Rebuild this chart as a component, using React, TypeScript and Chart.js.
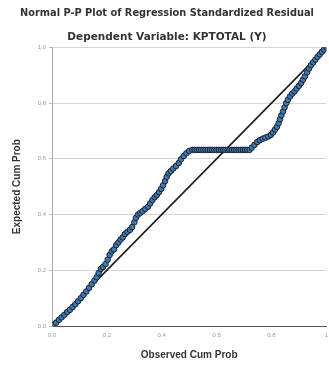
import React, { useEffect, useRef } from "react";
import { Chart, registerables } from "chart.js";

Chart.register(...registerables);

const titleText = "Normal P-P Plot of Regression Standardized Residual";
const subtitleText = "Dependent Variable: KPTOTAL (Y)";
const xAxisTitle = "Observed Cum Prob";
const yAxisTitle = "Expected Cum Prob";
const xTickLabels = ["0.0", "0.2", "0.4", "0.6", "0.8", "1"];
const yTickLabels = ["0.0", "0.2", "0.4", "0.6", "0.8", "1.0"];

const observedCumProb = [
  0.005, 0.015, 0.025, 0.035, 0.045, 0.055, 0.065, 0.075, 0.085, 0.095,
  0.105, 0.115, 0.125, 0.135, 0.145, 0.155, 0.163, 0.17, 0.178, 0.186,
  0.195, 0.203, 0.21, 0.218, 0.226, 0.234, 0.242, 0.25, 0.258, 0.266,
  0.275, 0.284, 0.292, 0.3, 0.306, 0.314, 0.322, 0.33, 0.34, 0.35,
  0.358, 0.366, 0.374, 0.382, 0.39, 0.398, 0.405, 0.412, 0.418, 0.425,
  0.433, 0.442, 0.452, 0.462, 0.47, 0.48, 0.49, 0.5, 0.512,
  0.52, 0.528, 0.536, 0.544, 0.552, 0.56, 0.568, 0.576, 0.584, 0.592,
  0.6, 0.608, 0.616, 0.624, 0.632, 0.64, 0.648, 0.656, 0.664, 0.672,
  0.68, 0.688, 0.696, 0.704, 0.712, 0.72,
  0.728, 0.738, 0.748, 0.758, 0.768, 0.778, 0.788, 0.798, 0.806, 0.813,
  0.82, 0.826, 0.831, 0.836, 0.842, 0.848, 0.854, 0.86, 0.868, 0.876,
  0.884, 0.892, 0.9, 0.908, 0.915, 0.922, 0.93, 0.937, 0.944, 0.952,
  0.96, 0.968, 0.976, 0.984, 0.992, 1.0,
];

const expectedCumProb = [
  0.004, 0.012, 0.022, 0.031, 0.04, 0.05, 0.058, 0.068, 0.078, 0.089,
  0.1, 0.112, 0.124, 0.137, 0.15, 0.163, 0.175, 0.19, 0.205, 0.212,
  0.222, 0.238, 0.255, 0.268, 0.275, 0.29, 0.3, 0.31, 0.318, 0.33,
  0.338, 0.345, 0.355, 0.372, 0.388, 0.4, 0.406, 0.412, 0.42, 0.428,
  0.44, 0.452, 0.462, 0.47, 0.48, 0.492, 0.505, 0.52, 0.535, 0.548,
  0.556, 0.565, 0.574, 0.585, 0.598, 0.61, 0.62, 0.628, 0.632,
  0.632, 0.632, 0.632, 0.632, 0.632, 0.632, 0.632, 0.632, 0.632, 0.632,
  0.632, 0.632, 0.632, 0.632, 0.632, 0.632, 0.632, 0.632, 0.632, 0.632,
  0.632, 0.632, 0.632, 0.632, 0.632, 0.632,
  0.64, 0.65, 0.66, 0.667, 0.672, 0.676, 0.68, 0.686, 0.695, 0.705,
  0.715, 0.728, 0.742, 0.756, 0.77, 0.785, 0.8, 0.812, 0.824, 0.834,
  0.842, 0.852, 0.862, 0.872, 0.884, 0.896, 0.91, 0.924, 0.936, 0.946,
  0.956, 0.966, 0.975, 0.984, 0.992, 1.0,
];

const refLineX = [0, 1];
const refLineY = [0, 1];

const FONT = "'Liberation Sans', Arial, sans-serif";
const WIDE = "'DejaVu Sans', Verdana, sans-serif";

export default function App() {
  const ref = useRef<HTMLCanvasElement | null>(null);

  useEffect(() => {
    if (!ref.current) return;
    const points = observedCumProb.map((x, i) => ({ x, y: expectedCumProb[i] }));
    const line = refLineX.map((x, i) => ({ x, y: refLineY[i] }));
    const chart = new Chart(ref.current, {
      type: "scatter",
      data: {
        datasets: [
          {
            type: "line",
            data: line,
            borderColor: "#1a1a1a",
            borderWidth: 1.6,
            pointRadius: 0,
            fill: false,
            order: 2,
          } as any,
          {
            data: points,
            backgroundColor: "#3f79b0",
            borderColor: "#17222e",
            borderWidth: 1,
            pointRadius: 2.8,
            order: 1,
          },
        ],
      },
      options: {
        responsive: false,
        animation: false,
        layout: { autoPadding: false, padding: { left: 5, right: 0, top: 0, bottom: 0 } },
        plugins: {
          legend: { display: false },
          tooltip: { enabled: false },
          title: {
            display: true,
            text: titleText,
            color: "#333",
            font: { family: WIDE, size: 9.8, weight: "bold" },
            padding: { top: 8, bottom: 4 },
          },
          subtitle: {
            display: true,
            text: subtitleText,
            color: "#333",
            font: { family: WIDE, size: 10.5, weight: "bold" },
            padding: { top: 7, bottom: 4 },
          },
        },
        scales: {
          x: {
            type: "linear",
            min: 0,
            max: 1,
            afterFit: (s: any) => {
              s.height = 39;
            },
            ticks: {
              stepSize: 0.2,
              color: "#999",
              font: { family: FONT, size: 6 },
              padding: 1,
              maxRotation: 0,
              callback: (v: any) => {
                const i = Math.round(Number(v) / 0.2);
                return xTickLabels[i] ?? "";
              },
            },
            grid: { display: true, color: "rgba(0,0,0,0)", drawTicks: true, tickLength: 5 },
            border: { display: true, color: "#555", width: 1 },
            title: {
              display: true,
              text: xAxisTitle,
              color: "#333",
              font: { family: FONT, size: 10, weight: "bold" },
              padding: { top: 0, bottom: 4 },
            },
          },
          y: {
            type: "linear",
            min: 0,
            max: 1,
            afterFit: (s: any) => {
              s.width = 47;
            },
            ticks: {
              stepSize: 0.2,
              color: "#999",
              font: { family: FONT, size: 6 },
              padding: 3,
              callback: (v: any) => {
                const i = Math.round(Number(v) / 0.2);
                return yTickLabels[i] ?? "";
              },
            },
            grid: {
              color: (ctx: any) => (ctx.tick && ctx.tick.value === 0 ? "rgba(0,0,0,0)" : "#d6d6d6"),
              drawTicks: true,
              tickLength: 3,
              tickColor: "#bbb",
            },
            border: { display: true, color: "#aaa", width: 1 },
            title: {
              display: true,
              text: yAxisTitle,
              color: "#333",
              font: { family: FONT, size: 10, weight: "bold" },
              padding: { top: 6, bottom: 0 },
            },
          },
        },
      },
    });
    return () => chart.destroy();
  }, []);

  return (
    <div style={{ position: "fixed", left: 0, top: 0, width: 329, height: 365, background: "#fff" }}>
      <canvas ref={ref} width={329} height={365} />
    </div>
  );
}
